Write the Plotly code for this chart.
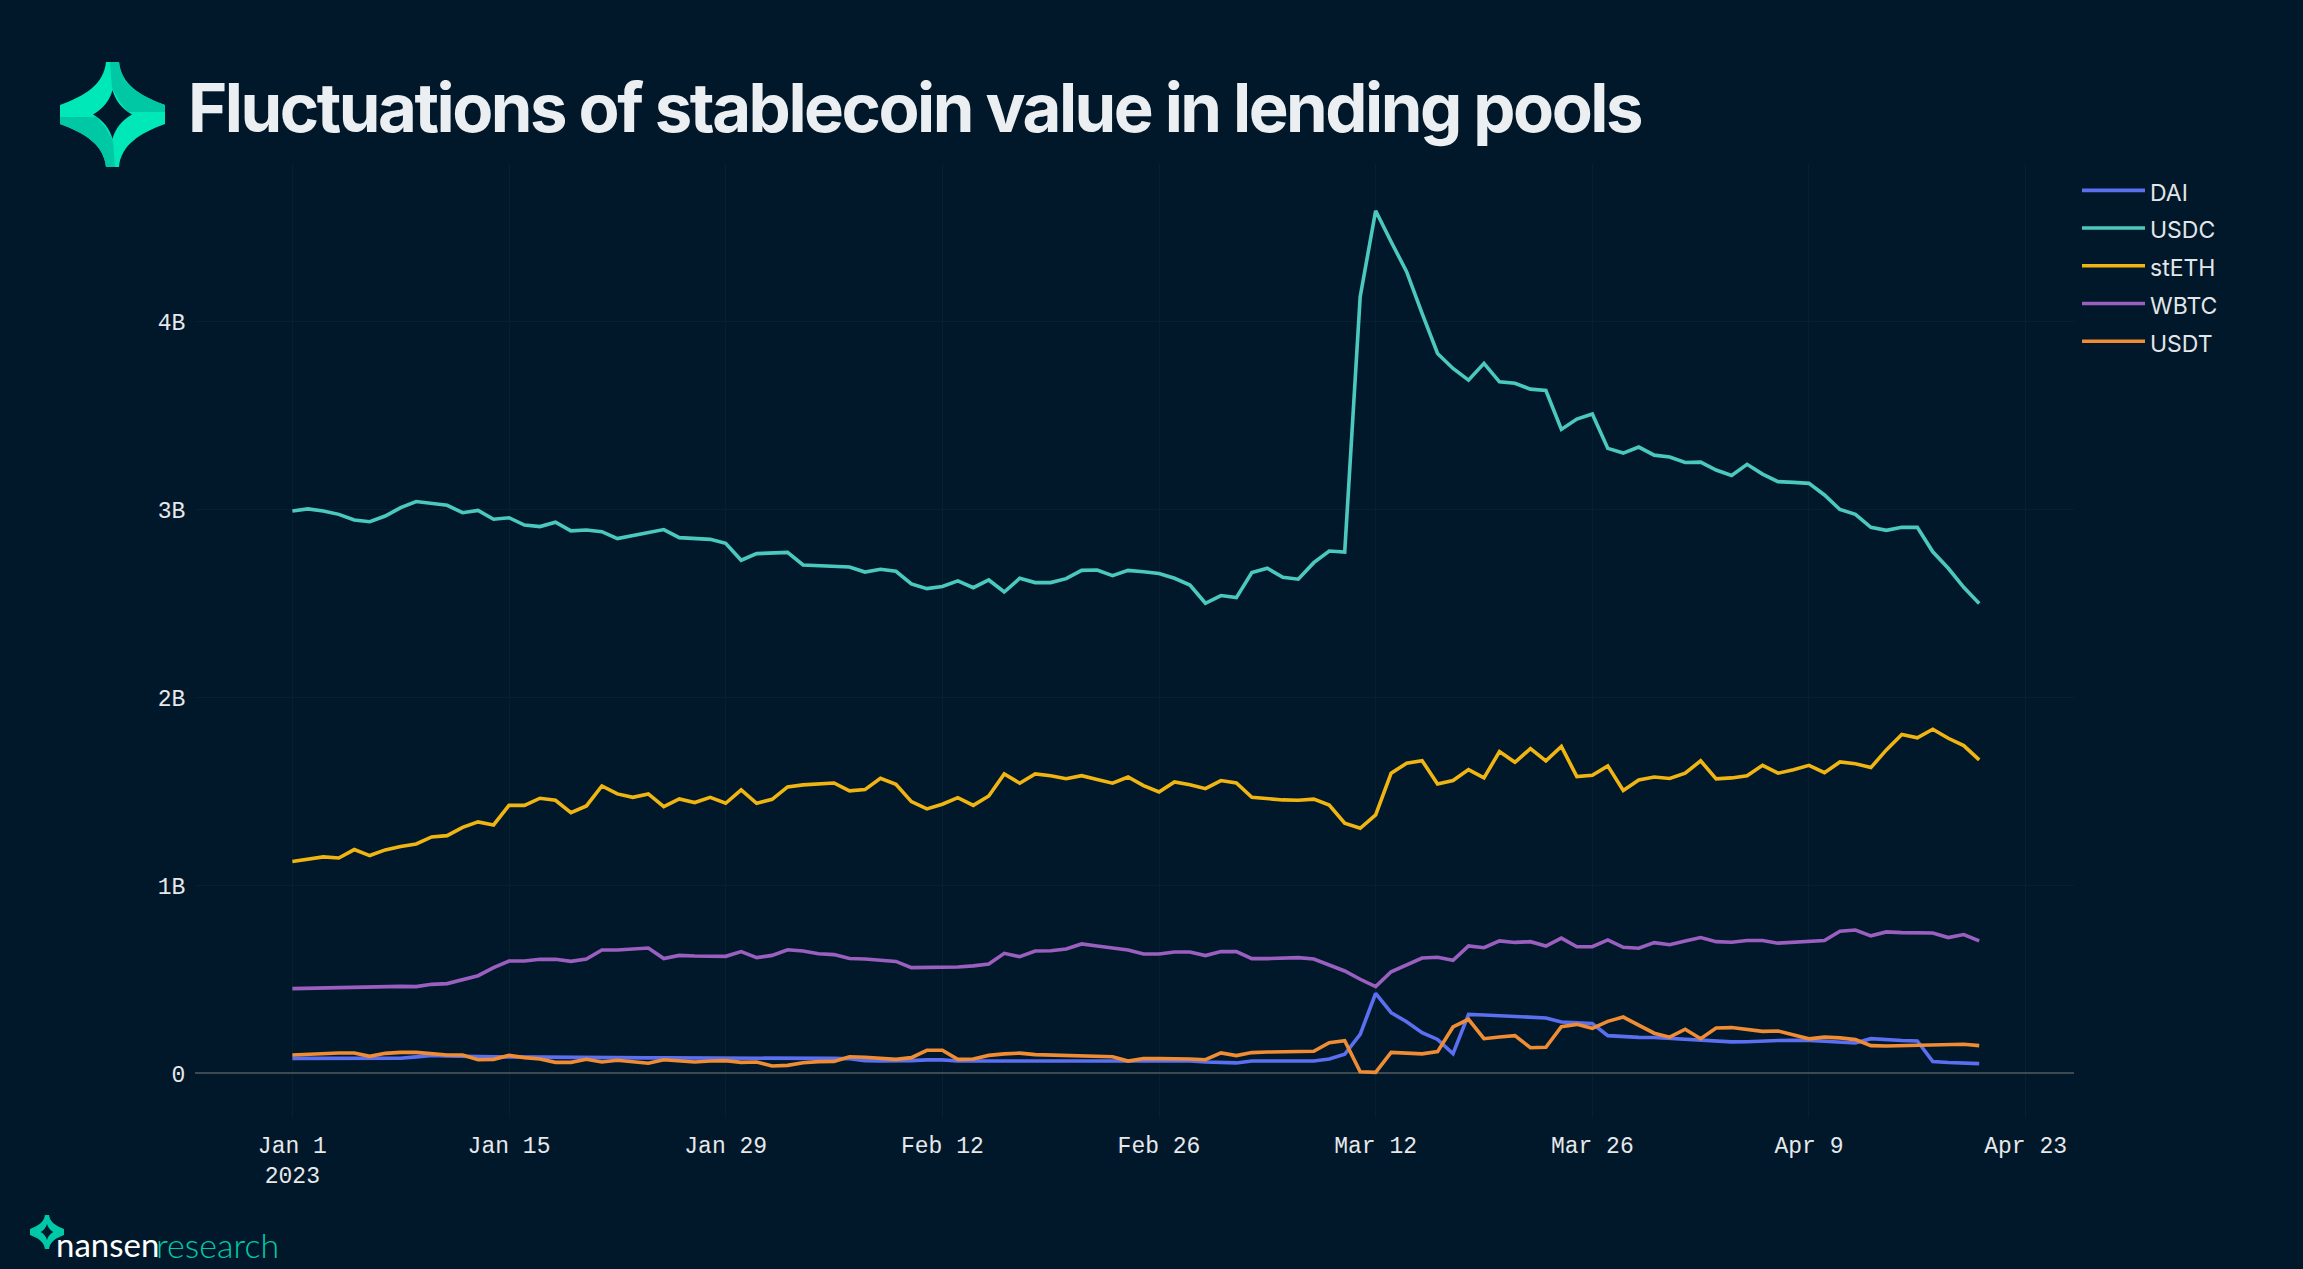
import base64
import pandas as pd
import plotly.graph_objects as go

W, H = 2303, 1269
L, R, T, B = 195, 2074, 163, 1118

dates = pd.date_range("2023-01-01", periods=110, freq="D")

usdc = [2.992,3.003,2.992,2.974,2.944,2.935,2.965,3.010,3.042,3.031,3.022,2.983,2.995,2.948,2.956,2.917,2.909,2.932,2.886,2.891,2.882,2.845,2.861,2.877,2.893,2.850,2.845,2.841,2.820,2.730,2.765,2.767,2.772,
        2.705,2.701,2.698,2.694,2.667,2.682,2.671,2.604,2.579,2.590,2.620,2.584,2.625,2.561,2.634,2.611,2.611,2.632,2.676,2.678,2.648,2.676,2.669,2.659,2.634,2.598,2.501,2.542,2.531,2.664,2.687,2.639,2.629,
        2.717,2.779,2.773,4.132,4.589,4.424,4.265,4.043,3.830,3.750,3.688,3.777,3.679,3.671,3.640,3.633,3.426,3.481,3.508,3.325,3.300,3.332,3.289,3.279,3.250,3.252,3.210,3.181,3.240,3.188,3.148,3.144,3.139,3.077,3.000,2.974,2.905,2.889,2.905,2.905,2.775,2.687,2.586,2.500]
steth = [1.127,1.139,1.152,1.146,1.191,1.159,1.189,1.207,1.221,1.258,1.265,1.309,1.338,1.322,1.426,1.426,1.464,1.453,1.387,1.423,1.529,1.487,1.469,1.487,1.419,1.460,1.441,1.469,1.437,1.508,1.437,1.458,1.524,
         1.535,1.540,1.545,1.503,1.510,1.570,1.538,1.446,1.407,1.432,1.467,1.426,1.476,1.593,1.544,1.593,1.584,1.568,1.584,1.563,1.544,1.577,1.531,1.497,1.551,1.536,1.515,1.558,1.545,1.469,1.462,1.455,1.453,
         1.459,1.428,1.331,1.304,1.375,1.597,1.650,1.664,1.540,1.558,1.616,1.572,1.712,1.655,1.728,1.663,1.739,1.579,1.586,1.636,1.505,1.561,1.577,1.569,1.597,1.663,1.567,1.572,1.583,1.639,1.597,1.616,1.639,1.600,1.657,1.647,1.627,1.721,1.803,1.785,1.831,1.783,1.744,1.668]
wbtc = [.451,.453,.455,.456,.458,.460,.462,.463,.462,.474,.478,.497,.520,.563,.598,.598,.607,.607,.596,.609,.657,.657,.662,.667,.611,.628,.625,.623,.623,.648,.616,.628,.658,.651,.637,.632,.611,.609,.602,.596,.563,.563,.563,
        .566,.572,.582,.639,.621,.651,.653,.662,.689,.678,.667,.657,.635,.635,.646,.646,.627,.648,.648,.611,.611,.614,.616,.609,.577,.545,.501,.462,.541,.575,.614,.618,.602,.678,.669,.705,.697,.701,.678,.720,.674,.674,.710,.671,.666,
        .696,.685,.705,.723,.701,.698,.707,.707,.693,.698,.701,.707,.756,.763,.732,.753,.749,.747,.747,.723,.739,.705]
usdt = [.098,.102,.105,.109,.109,.091,.107,.112,.112,.105,.098,.098,.073,.075,.096,.084,.077,.059,.059,.075,.061,.070,.063,.054,.073,.068,.061,.066,.068,.059,.061,.040,.043,.057,.063,.064,.089,.086,.079,.075,.084,.123,.123,
        .075,.077,.096,.104,.108,.100,.098,.095,.093,.091,.089,.066,.079,.079,.080,.077,.073,.109,.095,.111,.114,.116,.118,.118,.164,.174,.009,.006,.112,.110,.104,.116,.247,.288,.185,.194,.201,.137,.139,.249,.261,.240,.277,.300,.258,
        .214,.193,.235,.185,.242,.244,.235,.224,.226,.207,.184,.193,.189,.180,.148,.146,.148,.153,.155,.155,.155,.148]
dai = [.080,.080,.080,.080,.080,.080,.080,.081,.088,.096,.093,.090,.090,.088,.088,.087,.087,.086,.086,.085,.085,.083,.083,.083,.083,.083,.083,.083,.083,.083,.083,.080,.080,.080,.080,.080,.078,.068,.066,.066,.068,.072,.072,
       .066,.066,.066,.066,.066,.067,.067,.067,.070,.070,.070,.070,.070,.070,.068,.066,.061,.060,.056,.066,.066,.066,.066,.066,.077,.102,.208,.426,.323,.275,.217,.181,.105,.314,.311,.307,.304,.298,.295,.274,.268,.265,.201,.196,.192,
       .191,.187,.184,.180,.175,.168,.169,.173,.175,.176,.176,.171,.168,.162,.185,.178,.175,.173,.063,.058,.054,.052]

series_names = ["DAI", "USDC", "stETH", "WBTC", "USDT"]
series_values = [dai, usdc, steth, wbtc, usdt]
series_colors = ["#5B70F0", "#4CC9BE", "#F0B513", "#9A5FBF", "#F08C33"]
y_ticks = [0, 1, 2, 3, 4]
y_labels = ["0", "1B", "2B", "3B", "4B"]

BG = "#00182A"


def px(x):
    return (x - L) / (R - L)


def py(y):
    return (B - y) / (B - T)


fig = go.Figure()
for name, vals, col in zip(series_names, series_values, series_colors):
    fig.add_trace(go.Scatter(
        x=dates, y=vals, mode="lines",
        name=f"<span style='font-size:23px'>{name}</span>",
        line=dict(color=col, width=3.6),
    ))

STAR = ("M46 0H59C61 22 80 34 105 43V62C80 71 61 83 59 105H46C44 83 25 71 0 62V43C25 34 44 22 46 0Z"
        "M52.5 28C50 38 43 47 33 52.5C43 58 50 67 52.5 77C55 67 62 58 72 52.5C62 47 55 38 52.5 28Z")
logo_big = f"""<svg xmlns='http://www.w3.org/2000/svg' viewBox='0 0 105 105'>
<defs><clipPath id='c'><path clip-rule='evenodd' d='{STAR}'/></clipPath></defs>
<g clip-path='url(#c)'>
<rect width='105' height='105' fill='#00E8B8'/>
<polygon fill='#00C7A4' points='50,0 105,0 105,50 68,50 60,40 52,26'/>
<polygon fill='#00C7A4' points='55,105 0,105 0,55 37,55 45,65 53,79'/>
</g></svg>"""
logo_small = f"""<svg xmlns='http://www.w3.org/2000/svg' viewBox='0 0 105 105'>
<path fill='#00C9A7' fill-rule='evenodd' d='{STAR}'/></svg>"""


def uri(s):
    return "data:image/svg+xml;base64," + base64.b64encode(s.encode()).decode()


images = [
    dict(source=uri(logo_big), xref="paper", yref="paper", x=px(60), y=py(62),
         sizex=105 / (R - L), sizey=105 / (B - T), xanchor="left", yanchor="top",
         sizing="stretch", layer="above"),
    dict(source=uri(logo_small), xref="paper", yref="paper", x=px(30), y=py(1215),
         sizex=34 / (R - L), sizey=34 / (B - T), xanchor="left", yanchor="top",
         sizing="stretch", layer="above"),
]

annotations = [
    dict(text="<span style='letter-spacing:-2.47px'>Fluctuations of stablecoin value in lending pools</span>",
         xref="paper", yref="paper",
         x=px(186), y=py(107), xanchor="left", yanchor="middle", showarrow=False,
         font=dict(family="Inter", size=67, color="#ECEFF1", weight=700)),
    dict(text="nansen", xref="paper", yref="paper", x=px(54), y=py(1244), xanchor="left",
         yanchor="middle", showarrow=False,
         font=dict(family="Lato", size=33, color="#FFFFFF", weight=400)),
    dict(text="research", xref="paper", yref="paper", x=px(154), y=py(1244), xanchor="left",
         yanchor="middle", showarrow=False,
         font=dict(family="Lato", size=34, color="#00C9A7", weight=300)),
]

fig.update_layout(
    width=W, height=H,
    margin=dict(l=L, r=W - R, t=T, b=H - B, autoexpand=False),
    paper_bgcolor=BG, plot_bgcolor=BG,
    showlegend=True,
    legend=dict(x=px(2077), y=py(166.5), xanchor="left", yanchor="top",
                font=dict(family="Inter", size=26.7, color="#E3E6E8"),
                bgcolor="rgba(0,0,0,0)", itemwidth=63, tracegroupgap=0),
    images=images,
    annotations=annotations,
    xaxis=dict(type="date", range=["2022-12-25 17:00", "2023-04-26 03:00"],
               dtick=14 * 86400000, tick0="2023-01-01",
               showgrid=True, gridcolor="#06202F", gridwidth=1, zeroline=False,
               showline=False, ticks="outside", ticklen=6, tickcolor="rgba(0,0,0,0)",
               tickfont=dict(family="Liberation Mono", size=23, color="#E6E8EA")),
    yaxis=dict(range=[-0.237, 4.843], tickvals=y_ticks, ticktext=y_labels,
               showgrid=True, gridcolor="#06202F", gridwidth=1,
               zeroline=True, zerolinecolor="#3E4A52", zerolinewidth=2,
               showline=False, ticks="outside", ticklen=4, tickcolor="rgba(0,0,0,0)",
               tickfont=dict(family="Liberation Mono", size=23, color="#E6E8EA")),
)

fig.write_html("out.html", config={"displayModeBar": False},
               post_script=f"document.body.style.margin='0';document.body.style.background='{BG}';")
